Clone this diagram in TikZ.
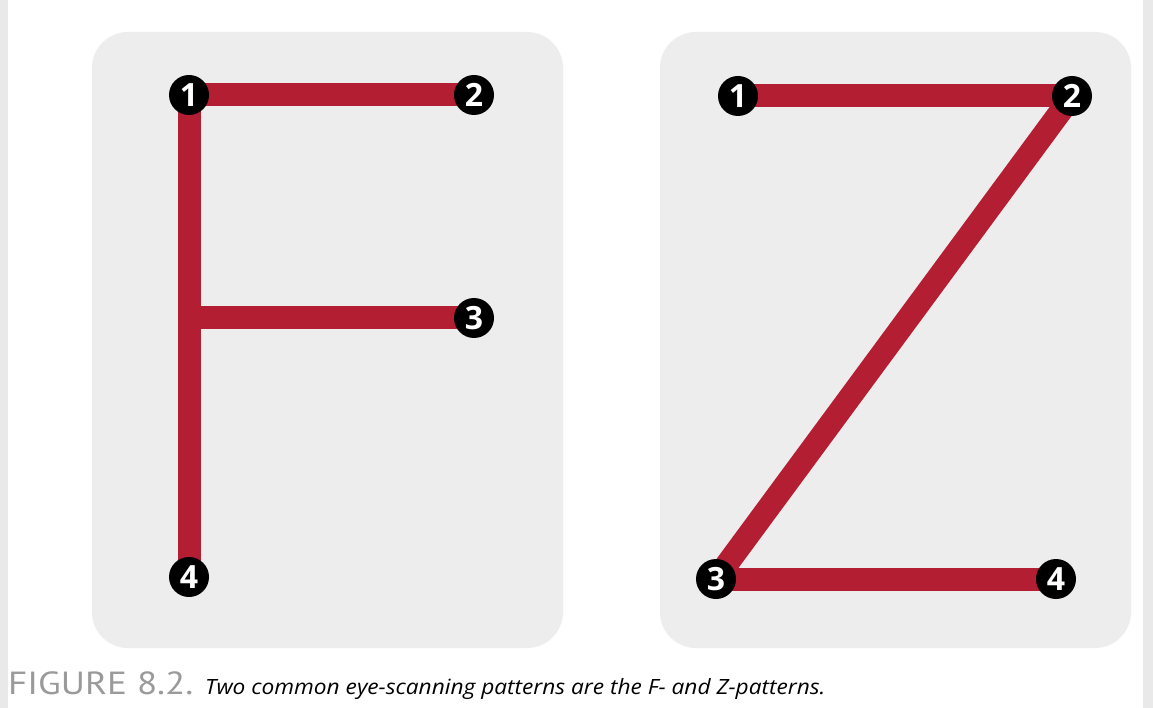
\documentclass[tikz,border=0pt]{standalone}
\usepackage{fontspec}
\setmainfont{Open Sans}
\newfontfamily\capfont{PT Sans}
\newfontfamily\italfont{Open Sans}
\definecolor{panelgrey}{HTML}{EEEDEE}
\definecolor{bargred}{HTML}{B41E32}
\definecolor{edgegrey}{HTML}{E9E9E9}
\definecolor{figgrey}{HTML}{9A9A9A}
\pgfdeclarelayer{bg}
\pgfdeclarelayer{mid}
\pgfsetlayers{bg,mid,main}
\tikzset{
  panel/.style={fill=panelgrey, rounded corners=36pt},
  bar/.style={draw=bargred, line width=23pt},
  num/.style={circle, fill=black, text=white, minimum size=40pt, inner sep=0pt,
    font=\fontsize{32}{32}\selectfont\bfseries},
}
\begin{document}
\begin{tikzpicture}[x=1pt,y=-1pt]
\useasboundingbox (0,0) rectangle (1153,708);
\begin{pgfonlayer}{bg}
\fill[edgegrey] (0,0) rectangle (1153,708);
\fill[white] (8,0) rectangle (1143,708);
\fill[panel] (92,32) rectangle (563,648);
\fill[panel] (660,32) rectangle (1131,648);
\end{pgfonlayer}
% F pattern
\node[num] (f1) at (189,95) {1};
\node[num] (f2) at (474,95) {2};
\node[num] (f3) at (474,318) {3};
\node[num] (f4) at (189,577) {4};
\coordinate (fmid) at (189,318);
% Z pattern
\node[num] (z1) at (738,96) {1};
\node[num] (z2) at (1072,96) {2};
\node[num] (z3) at (716,579) {3};
\node[num] (z4) at (1056,579) {4};
\begin{pgfonlayer}{mid}
\draw[bar] (f1.center) -- (f2.center);
\draw[bar] (f1.center) -- (f4.center);
\draw[bar] (fmid) -- (f3.center);
\draw[bar] (z1.center) -- (z2.center);
\draw[bar] (z2.center) -- (z3.center);
\draw[bar] (z3.center) -- (z4.center);
\end{pgfonlayer}
% caption
\node[anchor=base west, inner sep=0pt, text=figgrey, font=\capfont\fontsize{32}{32}\selectfont] (figlabel) at (8,694) {\scalebox{1.16}[1]{FIGURE 8.2.}};
\node[anchor=base west, inner sep=0pt, font=\italfont\itshape\fontsize{21}{21}\selectfont] (caption) at (205,694) {\scalebox{1.08}[1]{Two common eye-scanning patterns are the F- and Z-patterns.}};
\end{tikzpicture}
\end{document}
